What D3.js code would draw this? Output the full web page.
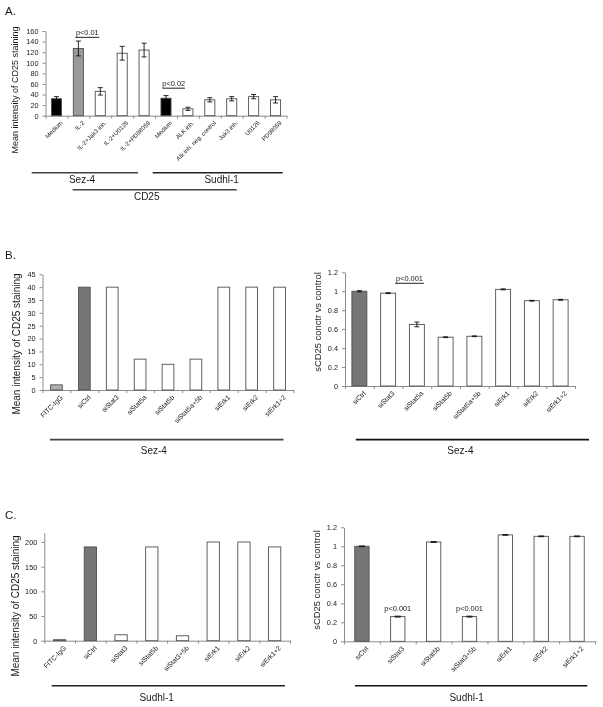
<!DOCTYPE html>
<html><head><meta charset="utf-8">
<script src="https://cdn.jsdelivr.net/npm/d3@7"></script>
<style>
body{margin:0;background:#fff}
svg{display:block;will-change:transform;-webkit-font-smoothing:antialiased}
text{font-family:Arial,"Liberation Sans",sans-serif;fill:#1a1a1a}
</style>
</head><body>
<svg id="c" width="603" height="707"></svg>
<script>
// ---------------- DATA ----------------
// Panel A
const catsA = ["Medium","IL-2","IL-2+Jak3 inh.","IL-2+U0126","IL-2+PD98059","Medium","ALK inh.","Alk inh. neg. control","Jak3 inh.","U0126","PD98059"];
const valsA = [32,127,46,118,124,33,13,30,32,36,30];
const errsA = [4,14,7,13,13,5,3,4,4,4,6];
const ticksA = [0,20,40,60,80,100,120,140,160];
const pValsA = [{from:1,to:2,v:148,label:"p<0.01"},{from:5,to:6,v:52,label:"p<0.02"}];
const groupsA = ["Sez-4","Sudhl-1","CD25"];

// Panel B left
const catsB1 = ["FITC-IgG","siCtrl","siStat3","siStat5a","siStat5b","siStat5a+5b","siErk1","siErk2","siErk1+2"];
const valsB1 = [2,40,40,12,10,12,40,40,40];
const ticksB1 = [0,5,10,15,20,25,30,35,40,45];

// Panel B right
const catsB2 = ["siCtrl","siStat3","siStat5a","siStat5b","siStat5a+5b","siErk1","siErk2","siErk1+2"];
const valsB2 = [1.0,0.98,0.65,0.515,0.525,1.02,0.9,0.91];
const errsB2 = [0.006,0.005,0.025,0.004,0.004,0.005,0.004,0.005];
const ticksB2 = [0,0.2,0.4,0.6,0.8,1,1.2];
const pValsB2 = [{from:1,to:2,v:1.084,label:"p<0.001"}];

// Panel C left
const catsC1 = ["FITC-IgG","siCtrl","siStat3","siStat5b","siStat3+5b","siErk1","siErk2","siErk1+2"];
const valsC1 = [2,190,12,190,10,200,200,190];
const ticksC1 = [0,50,100,150,200];

// Panel C right
const catsC2 = ["siCtrl","siStat3","siStat5b","siStat3+5b","siErk1","siErk2","siErk1+2"];
const valsC2 = [1.0,0.26,1.045,0.26,1.12,1.105,1.105];
const errsC2 = [0.004,0.005,0.005,0.005,0.004,0.004,0.004];
const ticksC2 = [0,0.2,0.4,0.6,0.8,1,1.2];
const pValsC2 = [{at:1,v:0.32,label:"p<0.001"},{at:3,v:0.32,label:"p<0.001"}];

const yLabelCount = "Mean intensity of CD25 staining";
const yLabelConc = "sCD25 conctr vs control";

// ---------------- STYLE ----------------
function fillFor(cat){
  if (cat === "Medium") return "#000";
  if (cat === "IL-2") return "#9a9a9a";
  if (cat === "siCtrl") return "#767676";
  if (cat === "FITC-IgG") return "#b0b0b0";
  return "#fff";
}
const fmtNum = d => String(+d.toFixed(1));

const svg = d3.select("#c");

function panel(cats, vals, errs, L){
  const n = cats.length;
  const p = 1 - L.ratio;
  const x = d3.scaleBand().domain(d3.range(n)).range([L.x0, L.x1]).paddingInner(p).paddingOuter(p/2);
  const yTopPx = L.yZero - (L.yZero - L.yRefPx) * L.yMax / L.yRef;
  const y = d3.scaleLinear().domain([0, L.yMax]).range([L.yZero, yTopPx]);
  const g = svg.append("g");

  // y axis
  const ya = g.append("g").attr("transform", `translate(${L.x0},0)`)
    .call(d3.axisLeft(y).tickValues(L.ticks).tickSize(3).tickSizeOuter(0).tickPadding(4).tickFormat(fmtNum));
  ya.attr("font-size", L.tickFont || 7.3).attr("font-family", "Arial, 'Liberation Sans', sans-serif");
  ya.selectAll("path,line").attr("stroke", "#8c8c8c");
  ya.selectAll("text").attr("fill", "#222");

  // x axis with ticks at category boundaries
  const xl = d3.scaleLinear().domain([0, n]).range([L.x0, L.x1]);
  const xa = g.append("g").attr("transform", `translate(0,${L.yZero})`)
    .call(d3.axisBottom(xl).tickValues(d3.range(n + 1)).tickSize(3).tickSizeOuter(0).tickFormat(""));
  xa.selectAll("path,line").attr("stroke", "#8c8c8c");

  // bars
  g.selectAll("rect.bar").data(vals).join("rect").attr("class","bar")
    .attr("x", (d,i) => x(i)).attr("width", x.bandwidth())
    .attr("y", d => y(d)).attr("height", d => L.yZero - y(d))
    .attr("fill", (d,i) => fillFor(cats[i]))
    .attr("stroke", "#505050").attr("stroke-width", 0.9);

  // error bars
  if (errs){
    const cw = L.cap || 2.5;
    errs.forEach((e,i) => {
      const cx = x(i) + x.bandwidth()/2;
      const y1 = y(vals[i] + e), y2 = y(vals[i] - e);
      g.append("line").attr("x1",cx).attr("x2",cx).attr("y1",y1).attr("y2",y2).attr("stroke","#111").attr("stroke-width",0.9);
      [y1,y2].forEach(yy => g.append("line").attr("x1",cx-cw).attr("x2",cx+cw).attr("y1",yy).attr("y2",yy).attr("stroke","#111").attr("stroke-width",0.9));
    });
  }

  // category labels
  g.selectAll("text.cat").data(cats).join("text").attr("class","cat")
    .attr("transform", (d,i) => `translate(${x(i) + x.bandwidth()/2 + 4},${L.yZero + 5}) rotate(-45)`)
    .attr("text-anchor","end").attr("dy","0.6em")
    .attr("font-size", L.catFont || 6.8).text(d => d);

  // y label
  g.append("text").attr("transform", `translate(${L.ylx},${L.yly}) rotate(-90)`)
    .attr("text-anchor","middle").attr("dy","0.35em")
    .attr("font-size", L.ylFont).text(L.ylabel);

  return {x, y, cx: i => x(i) + x.bandwidth()/2};
}

function pLine(P, a, bIdx, v, label, dx1, dx2){
  const yy = P.y(v);
  const xa = P.cx(a) + dx1, xb = P.cx(bIdx) + dx2;
  svg.append("line").attr("x1",xa).attr("x2",xb).attr("y1",yy).attr("y2",yy).attr("stroke","#222").attr("stroke-width",1);
  svg.append("text").attr("x",(xa+xb)/2).attr("y",yy-2).attr("text-anchor","middle").attr("font-size",7.4).text(label);
}

function groupLine(x1, x2, yy, label, tx, ty, color){
  svg.append("line").attr("x1",x1).attr("x2",x2).attr("y1",yy).attr("y2",yy).attr("stroke",color || "#222").attr("stroke-width",1.6);
  svg.append("text").attr("x",tx).attr("y",ty).attr("text-anchor","middle").attr("font-size",10).text(label);
}

function panelLetter(t, xx, yy){
  svg.append("text").attr("x",xx).attr("y",yy).attr("font-size",11.5).text(t);
}

// ---------------- PANEL A ----------------
panelLetter("A.", 5, 15);
const PA = panel(catsA, valsA, errsA, {
  x0:45.5, x1:286.5, ratio:0.46, yZero:115.7, yRefPx:31, yRef:160, yMax:160, ticks:ticksA,
  ylx:15, yly:90, ylFont:9, ylabel:yLabelCount, cap:2.5, catFont:6.1
});
pLine(PA, pValsA[0].from, pValsA[0].to, pValsA[0].v, pValsA[0].label, -3, -1);
pLine(PA, pValsA[1].from, pValsA[1].to, pValsA[1].v, pValsA[1].label, -3.5, -3);
groupLine(31.7, 138, 172.7, groupsA[0], 82, 183, "#444");
groupLine(152.7, 282.7, 172.7, groupsA[1], 221.7, 183, "#222");
groupLine(72.7, 236.7, 189.8, groupsA[2], 146.7, 200, "#444");

// ---------------- PANEL B ----------------
panelLetter("B.", 5, 259);
panel(catsB1, valsB1, null, {
  x0:42.5, x1:293.5, ratio:0.42, yZero:390, yRefPx:274.3, yRef:45, yMax:45, ticks:ticksB1,
  ylx:16, yly:344, ylFont:10, ylabel:yLabelCount
});
groupLine(50, 283.5, 439.6, "Sez-4", 153.8, 454, "#444");

const PB2 = panel(catsB2, valsB2, errsB2, {
  x0:345, x1:575, ratio:0.52, yZero:386, yRefPx:272.3, yRef:1.2, yMax:1.2, ticks:ticksB2,
  ylx:318, yly:322, ylFont:9.4, ylabel:yLabelConc, cap:2.5
});
pLine(PB2, pValsB2[0].from, pValsB2[0].to, pValsB2[0].v, pValsB2[0].label, 7, 7);
groupLine(355.8, 589, 439.6, "Sez-4", 460.4, 454, "#111");

// ---------------- PANEL C ----------------
panelLetter("C.", 5, 519);
panel(catsC1, valsC1, null, {
  x0:44.3, x1:290, ratio:0.4, yZero:640.7, yRefPx:542, yRef:200, yMax:219, ticks:ticksC1,
  ylx:15, yly:606, ylFont:10, ylabel:yLabelCount
});
groupLine(51.7, 285, 685.7, "Sudhl-1", 156.7, 701, "#222");

const PC2 = panel(catsC2, valsC2, errsC2, {
  x0:344, x1:595, ratio:0.4, yZero:641.3, yRefPx:527.3, yRef:1.2, yMax:1.2, ticks:ticksC2,
  ylx:317, yly:580, ylFont:9.4, ylabel:yLabelConc, cap:3
});
pValsC2.forEach(pv => {
  svg.append("text").attr("x", PC2.cx(pv.at)).attr("y", PC2.y(pv.v)).attr("text-anchor","middle").attr("font-size",7.4).text(pv.label);
});
groupLine(355, 587.3, 685.7, "Sudhl-1", 466.7, 701, "#111");
</script>
</body></html>
